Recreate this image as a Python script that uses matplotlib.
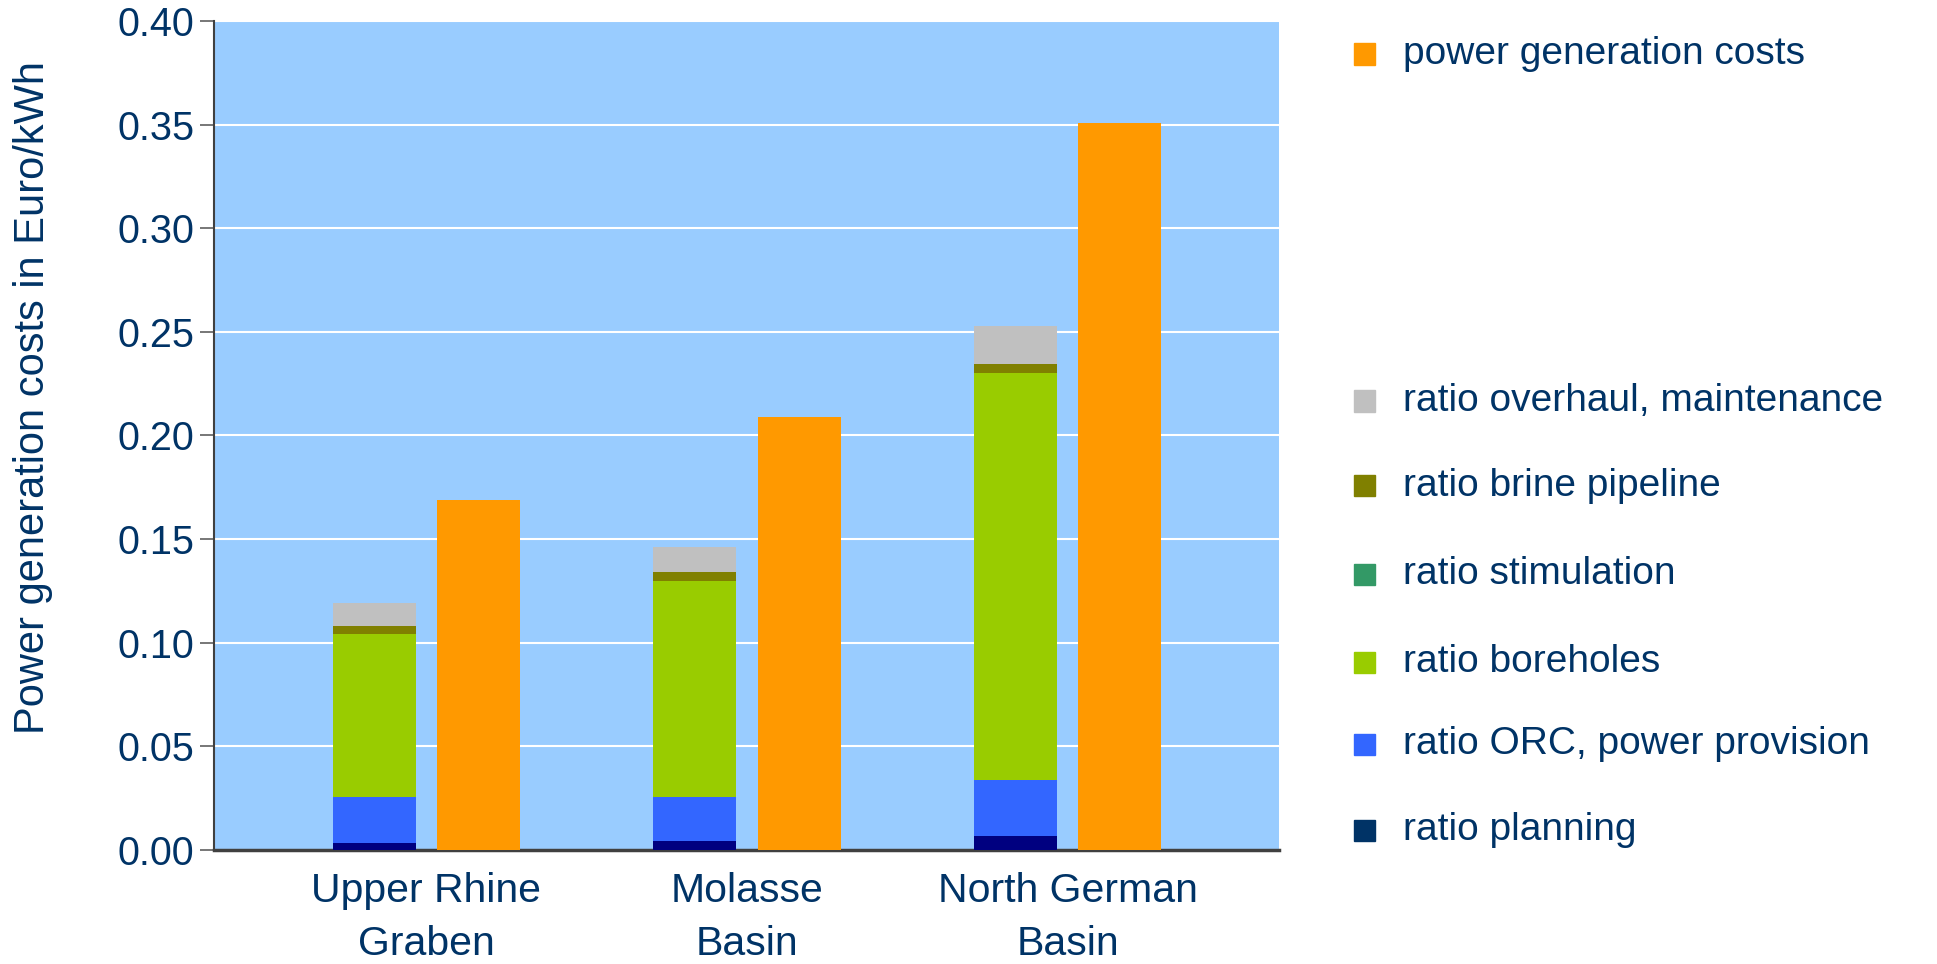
import matplotlib
matplotlib.use("Agg")
import matplotlib.pyplot as plt
from matplotlib.patches import Rectangle
import numpy as np

plt.rcParams['font.family'] = ['Liberation Sans', 'DejaVu Sans']

categories = ["Upper Rhine\nGraben", "Molasse\nBasin", "North German\nBasin"]
series_names = ["ratio planning", "ratio ORC, power provision", "ratio boreholes",
                "ratio stimulation", "ratio brine pipeline", "ratio overhaul, maintenance"]
planning = [0.0034, 0.0043, 0.0067]
orc = [0.0222, 0.0213, 0.0272]
boreholes = [0.0786, 0.1042, 0.1962]
stimulation = [0.0, 0.0, 0.0]
brine = [0.0038, 0.0044, 0.0043]
overhaul = [0.0112, 0.0120, 0.0185]
power_costs = [0.169, 0.2087, 0.3506]

bar_colors = ["#000080", "#3366FF", "#99CC00", "#339966", "#808000", "#C0C0C0"]
legend_colors = ["#003366", "#3366FF", "#99CC00", "#339966", "#808000", "#C0C0C0"]
orange = "#FF9900"
text_color = "#003366"

W, H = 1937, 964
fig = plt.figure(figsize=(W / 100, H / 100), dpi=100)
ax = fig.add_axes([214 / W, 1 - 850 / H, (1279 - 214) / W, (850 - 21) / H])
ax.set_facecolor("#99CCFF")

x = np.arange(len(categories))
bw = 0.259
off = 0.163
stack = [planning, orc, boreholes, stimulation, brine, overhaul]
bottom = np.zeros(len(categories))
for vals, col in zip(stack, bar_colors):
    ax.bar(x - off, vals, bw, bottom=bottom, color=col, zorder=3, linewidth=0)
    bottom += np.array(vals)
ax.bar(x + off, power_costs, bw, color=orange, zorder=3, linewidth=0)

ax.set_xlim(-0.663, 2.66)
ax.set_ylim(0, 0.40)
ticks = np.arange(0, 0.401, 0.05)
ax.set_yticks(ticks)
ax.set_yticklabels([f"{v:.2f}" for v in ticks])
ax.yaxis.grid(True, color="white", linewidth=1.5, zorder=1)
ax.set_axisbelow(True)
ax.set_xticks(x)
ax.set_xticklabels(categories, fontsize=29.5, color=text_color, linespacing=1.5)
ax.tick_params(axis='x', length=0, pad=16)
ax.tick_params(axis='y', length=10, width=1.2, color="#606060", labelsize=28.5,
               labelcolor=text_color, pad=4)
for s in ["top", "right"]:
    ax.spines[s].set_visible(False)
ax.spines["left"].set_color("#404040")
ax.spines["left"].set_linewidth(1.5)
ax.spines["bottom"].set_color("#404040")
ax.spines["bottom"].set_linewidth(2.5)
fig.text(33 / W, 1 - 398 / H, "Power generation costs in Euro/kWh", fontsize=30,
         color=text_color, rotation=90, ha="center", va="center")

# legend
sq = 21
def legend_item(ycenter, color, label):
    fig.patches.append(Rectangle((1354 / W, 1 - (ycenter + sq / 2) / H), sq / W, sq / H,
                                 transform=fig.transFigure, color=color, figure=fig))
    fig.text(1403 / W, 1 - ycenter / H, label, fontsize=28, color=text_color,
             va="center", ha="left")

legend_item(54, orange, "power generation costs")
ys = [830, 744, 662, 574, 486, 401]
for yc, col, name in zip(ys, legend_colors, series_names):
    legend_item(yc, col, name)

fig.savefig("out.png", dpi=100)
